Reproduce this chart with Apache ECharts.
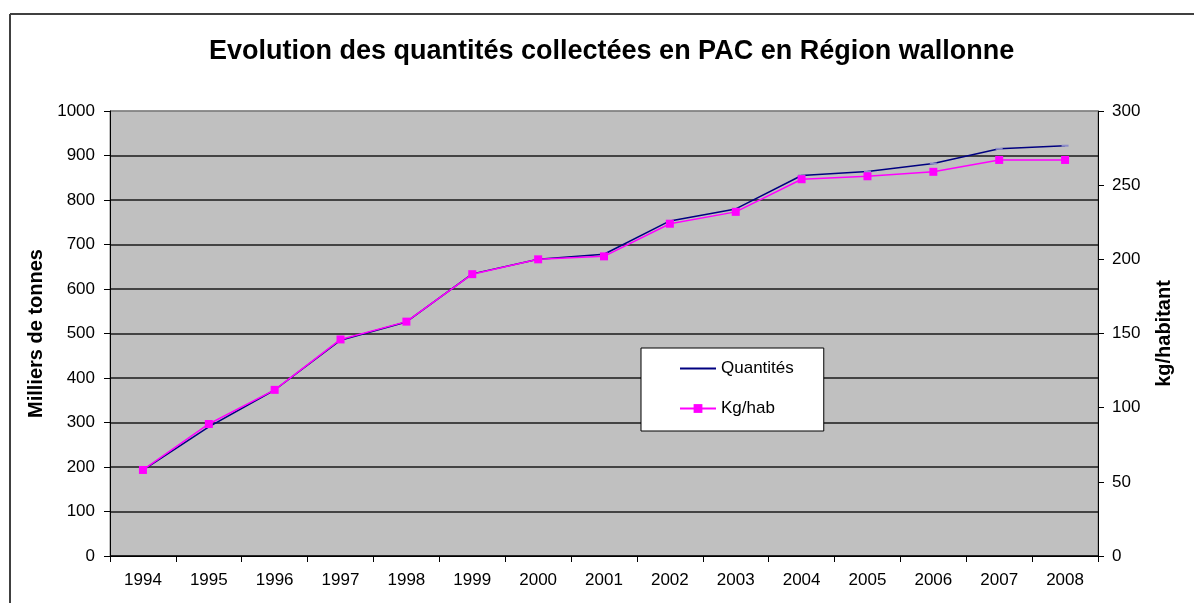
<!DOCTYPE html>
<html>
<head>
<meta charset="utf-8">
<script src="https://cdn.jsdelivr.net/npm/echarts@6/dist/echarts.min.js"></script>
<style>
html, body { margin: 0; padding: 0; background: #fff; }
#chart { width: 1194px; height: 603px; }
</style>
</head>
<body>
<div id="chart"></div>
<script>
var years = ['1994', '1995', '1996', '1997', '1998', '1999', '2000', '2001',
    '2002', '2003', '2004', '2005', '2006', '2007', '2008'];
// milliers de tonnes (axe de gauche)
var quantites = [193, 290, 373, 485, 526, 634, 667, 678, 753, 780, 855, 864, 882, 915, 922];
// kg/habitant (axe de droite)
var kgHab = [58, 89, 112, 146, 158, 190, 200, 202, 224, 232, 254, 256, 259, 267, 267];

var fontFam = '"Liberation Sans", Arial, sans-serif';

var chart = echarts.init(document.getElementById('chart'));
var option = {
    animation: false,
    textStyle: { fontFamily: fontFam },
    title: {
        text: 'Evolution des quantités collectées en PAC en Région wallonne',
        left: 204,
        top: 33,
        textStyle: { fontSize: 27, fontWeight: 'bold', color: '#000', fontFamily: fontFam }
    },
    legend: {
        orient: 'vertical',
        left: 641,
        top: 348,
        backgroundColor: '#fff',
        borderColor: '#000',
        borderWidth: 1,
        padding: [12, 30, 14, 38],
        itemWidth: 36,
        itemHeight: 11,
        itemGap: 23,
        textStyle: { fontSize: 17, color: '#000', fontFamily: fontFam },
        data: [
            { name: 'Quantités', itemStyle: { opacity: 0 } },
            { name: 'Kg/hab' }
        ]
    },
    grid: {
        left: 110,
        right: 96,
        top: 111,
        bottom: 47,
        show: true,
        backgroundColor: '#c0c0c0',
        borderColor: '#808080',
        borderWidth: 1
    },
    xAxis: {
        type: 'category',
        data: years,
        boundaryGap: true,
        axisLine: { lineStyle: { color: '#000', width: 1 } },
        axisTick: { show: true, interval: 0, length: 6, lineStyle: { color: '#000' } },
        axisLabel: { fontSize: 17, color: '#000', margin: 16, interval: 0 }
    },
    yAxis: [{
        type: 'value',
        min: 0,
        max: 1000,
        interval: 100,
        name: 'Milliers de tonnes',
        nameLocation: 'middle',
        nameGap: 64,
        nameTextStyle: { fontSize: 20, fontWeight: 'bold', color: '#000' },
        axisLine: { show: true, lineStyle: { color: '#000' } },
        axisTick: { show: true, length: 6, lineStyle: { color: '#000' } },
        axisLabel: {
            fontSize: 17, color: '#000', margin: 15,
            formatter: function(v) { return String(v); }
        },
        splitLine: {
            show: true,
            lineStyle: {
                color: ['#000', '#1a1a1a', '#1a1a1a', '#1a1a1a', '#1a1a1a', '#1a1a1a',
                    '#1a1a1a', '#1a1a1a', '#1a1a1a', '#1a1a1a', '#808080'],
                width: 1.5
            }
        }
    }, {
        type: 'value',
        min: 0,
        max: 300,
        interval: 50,
        position: 'right',
        name: 'kg/habitant',
        nameLocation: 'middle',
        nameGap: 56,
        nameTextStyle: { fontSize: 20, fontWeight: 'bold', color: '#000' },
        axisLine: { show: true, lineStyle: { color: '#000' } },
        axisTick: { show: true, length: 6, lineStyle: { color: '#000' } },
        axisLabel: { fontSize: 17, color: '#000', margin: 14 },
        splitLine: { show: false }
    }],
    series: [{
        name: 'Quantités',
        type: 'line',
        yAxisIndex: 0,
        data: quantites,
        symbol: 'rect',
        symbolSize: [7, 2],
        itemStyle: { color: '#8c8cc8' },
        lineStyle: { color: '#000080', width: 1.5 },
        z: 2
    }, {
        name: 'Kg/hab',
        type: 'line',
        yAxisIndex: 1,
        data: kgHab,
        symbol: 'rect',
        symbolSize: 8,
        itemStyle: { color: '#ff00ff' },
        lineStyle: { color: '#ff00ff', width: 1.5 },
        z: 3
    }],
    graphic: [{
        type: 'line',
        shape: { x1: 10, y1: 14, x2: 1194, y2: 14 },
        style: { stroke: '#404040', lineWidth: 2 }
    }, {
        type: 'line',
        shape: { x1: 10, y1: 14, x2: 10, y2: 603 },
        style: { stroke: '#404040', lineWidth: 2 }
    }]
};
chart.setOption(option);
</script>
</body>
</html>
